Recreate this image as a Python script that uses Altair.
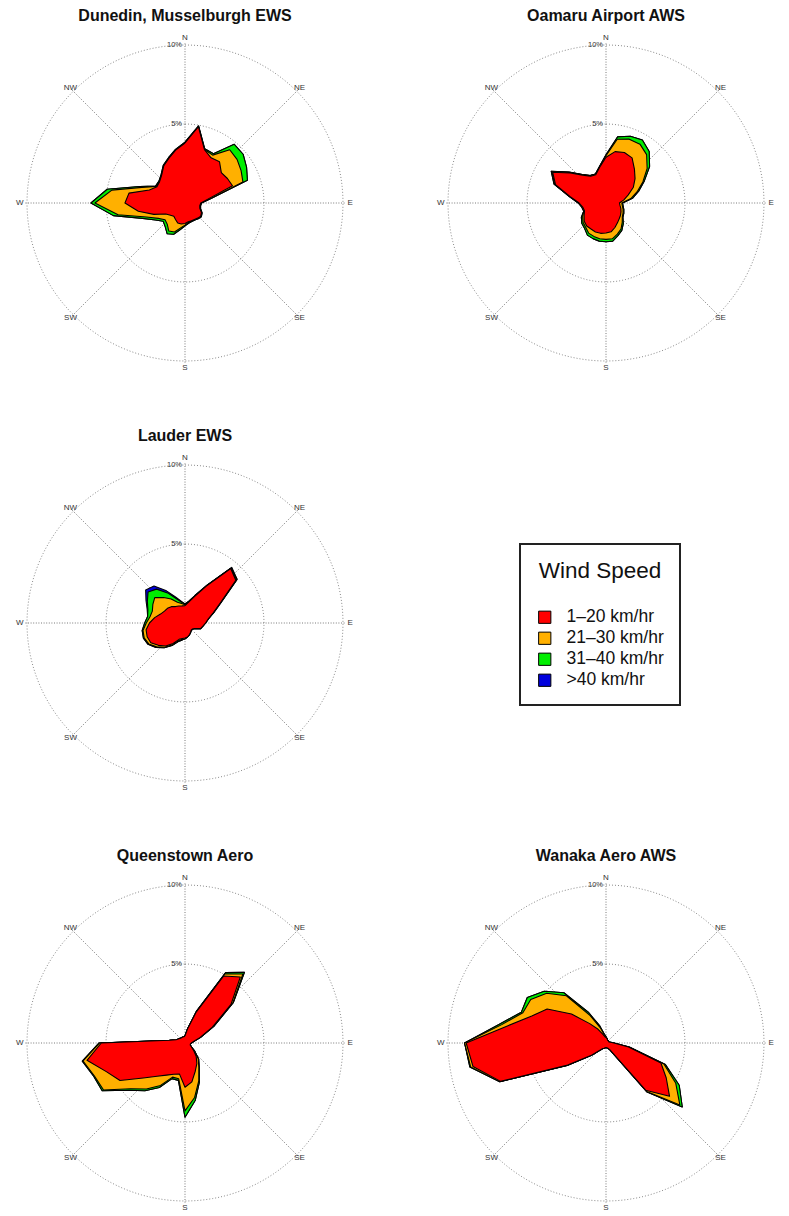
import altair as alt
import numpy as np
import pandas as pd

FONT = "Liberation Sans"

# 10-degree direction sectors, clockwise from north
DIRECTIONS = list(range(0, 360, 10))

CLASSES = ["1–20 km/hr", "21–30 km/hr", "31–40 km/hr", ">40 km/hr"]
CLASS_COLORS = ["#ff0000", "#ffb000", "#00ee00", "#0000dd"]

STATIONS = [
    "Dunedin, Musselburgh EWS",
    "Oamaru Airport AWS",
    "Lauder EWS",
    "Queenstown Aero",
    "Wanaka Aero AWS",
]

# Frequency of observations (%) per sector for each wind-speed class
dunedin_1_20 = [3.8, 4.9, 3.6, 3.3, 3.4, 3.0, 3.1, 3.2, 1.5, 1.0, 0.95, 1.0,
                1.2, 1.3, 1.25, 1.2, 1.2, 1.2, 1.3, 1.35, 1.35, 1.2, 1.1, 1.2,
                1.4, 2.1, 3.0, 3.8, 3.6, 2.4, 2.05, 2.1, 2.3, 2.7, 3.0, 3.4]
dunedin_21_30 = [0, 0, 0, 0.2, 1.0, 1.3, 1.0, 0.7, 0.15, 0, 0, 0,
                 0, 0, 0, 0, 0, 0.05, 0.1, 0.25, 0.6, 0.85, 0.65, 0.45,
                 0.55, 0.5, 1.3, 1.9, 1.1, 0.5, 0.05, 0, 0, 0, 0, 0]
dunedin_31_40 = [0.05, 0.05, 0.05, 0.1, 0.45, 0.5, 0.4, 0.3, 0.05, 0.05, 0.05, 0.05,
                 0.05, 0.05, 0.05, 0.05, 0.05, 0.05, 0.05, 0.1, 0.15, 0.2, 0.2, 0.15,
                 0.2, 0.25, 0.3, 0.25, 0.3, 0.15, 0.05, 0.05, 0.05, 0.05, 0.05, 0.05]
dunedin_gt40 = [0] * 36

oamaru_1_20 = [2.9, 3.3, 3.4, 3.3, 2.8, 2.4, 2.0, 1.5, 1.15, 0.85, 0.9, 1.0,
               1.1, 1.2, 1.3, 1.45, 1.65, 1.85, 1.9, 1.95, 1.95, 1.9, 1.9, 1.8,
               1.6, 1.45, 1.5, 1.7, 2.3, 3.4, 3.9, 2.95, 2.3, 1.95, 1.9, 2.3]
oamaru_21_30 = [0.1, 0.8, 0.9, 1.0, 1.2, 1.0, 0.7, 0.6, 0.45, 0.15, 0.15, 0.15,
                0.15, 0.15, 0.3, 0.45, 0.45, 0.45, 0.4, 0.35, 0.3, 0.3, 0.1, 0.1,
                0.1, 0.05, 0.05, 0.05, 0.05, 0.05, 0.05, 0.05, 0.05, 0.05, 0.05, 0.05]
oamaru_31_40 = [0.05, 0.15, 0.2, 0.3, 0.25, 0.2, 0.1, 0.1, 0.1, 0.05, 0.05, 0.05,
                0.05, 0.05, 0.1, 0.1, 0.1, 0.15, 0.15, 0.15, 0.15, 0.15, 0.1, 0.1,
                0.1, 0, 0, 0, 0, 0.05, 0.05, 0.05, 0, 0, 0, 0]
oamaru_gt40 = [0] * 36

lauder_1_20 = [1.1, 1.35, 1.8, 2.7, 4.5, 4.2, 2.6, 1.9, 1.5, 1.3, 1.15, 1.05,
               0.7, 0.6, 0.6, 0.7, 0.8, 0.9, 0.95, 1.0, 1.1, 1.5, 1.9, 2.2,
               2.5, 2.55, 2.5, 2.25, 1.95, 1.65, 1.5, 1.45, 1.35, 1.2, 1.15, 1.1]
lauder_21_30 = [0.05, 0, 0, 0, 0, 0.05, 0, 0, 0, 0, 0, 0,
                0, 0, 0, 0, 0, 0, 0.05, 0.05, 0.1, 0.1, 0.1, 0.15,
                0.15, 0.2, 0.2, 0.2, 0.3, 0.55, 0.85, 1.05, 0.75, 0.55, 0.25, 0.15]
lauder_31_40 = [0.05, 0.05, 0.05, 0.05, 0.05, 0.05, 0.05, 0.05, 0, 0, 0, 0,
                0, 0, 0, 0, 0, 0, 0, 0.05, 0.05, 0.05, 0.05, 0.05,
                0.05, 0.05, 0.05, 0.1, 0.15, 0.3, 0.4, 0.55, 0.7, 0.45, 0.25, 0.1]
lauder_gt40 = [0, 0, 0, 0, 0.05, 0, 0, 0, 0, 0, 0, 0,
               0, 0, 0, 0, 0, 0, 0, 0, 0, 0, 0, 0,
               0, 0, 0, 0, 0, 0.05, 0.1, 0.2, 0.25, 0.15, 0.1, 0.05]

queenstown_1_20 = [0.45, 0.9, 2.1, 4.9, 5.45, 3.8, 2.0, 1.0, 0.55, 0.4, 0.35, 0.35,
                   0.45, 0.7, 1.1, 1.5, 1.9, 2.5, 2.8, 2.0, 2.1, 2.35, 2.75, 3.45,
                   4.75, 5.3, 6.3, 5.3, 1.0, 0.6, 0.5, 0.45, 0.4, 0.4, 0.4, 0.4]
queenstown_21_30 = [0, 0, 0.05, 0.15, 0.25, 0.15, 0.1, 0.05, 0, 0, 0, 0,
                    0, 0.1, 0.2, 0.25, 0.65, 1.0, 1.5, 0.3, 0.2, 0.75, 1.05, 1.05,
                    1.2, 0.8, 0.25, 0.1, 0, 0, 0, 0, 0, 0, 0, 0]
queenstown_31_40 = [0, 0, 0, 0.1, 0.15, 0.05, 0, 0, 0, 0, 0, 0,
                    0, 0, 0.05, 0.05, 0.1, 0.2, 0.4, 0.1, 0.1, 0.15, 0.15, 0.15,
                    0.1, 0.05, 0.05, 0.05, 0, 0, 0, 0, 0, 0, 0, 0]
queenstown_gt40 = [0] * 36

wanaka_1_20 = [0.35, 0.3, 0.25, 0.2, 0.2, 0.2, 0.2, 0.2, 0.3, 0.5, 1.45, 3.7,
               4.4, 5.25, 3.9, 0.5, 0.35, 0.3, 0.3, 0.3, 0.35, 0.4, 0.6, 1.2,
               2.8, 7.1, 8.55, 8.85, 6.3, 5.0, 4.3, 2.85, 1.6, 1.0, 0.6, 0.4]
wanaka_21_30 = [0.05, 0, 0, 0, 0, 0, 0, 0, 0, 0, 0, 0.2,
                0.7, 0.85, 0.1, 0, 0, 0, 0, 0, 0, 0, 0, 0,
                0.05, 0.05, 0.15, 0.1, 0.4, 0.6, 1.2, 2.05, 2.3, 1.0, 0.4, 0.1]
wanaka_31_40 = [0, 0, 0, 0, 0, 0, 0, 0, 0, 0, 0.05, 0.1,
                0.25, 0.2, 0.05, 0, 0, 0, 0, 0, 0, 0, 0, 0,
                0, 0, 0.05, 0, 0.15, 0.1, 0.25, 0.2, 0.25, 0.25, 0.15, 0.05]
wanaka_gt40 = [0] * 36

FREQ = {
    "Dunedin, Musselburgh EWS": [dunedin_1_20, dunedin_21_30, dunedin_31_40, dunedin_gt40],
    "Oamaru Airport AWS": [oamaru_1_20, oamaru_21_30, oamaru_31_40, oamaru_gt40],
    "Lauder EWS": [lauder_1_20, lauder_21_30, lauder_31_40, lauder_gt40],
    "Queenstown Aero": [queenstown_1_20, queenstown_21_30, queenstown_31_40, queenstown_gt40],
    "Wanaka Aero AWS": [wanaka_1_20, wanaka_21_30, wanaka_31_40, wanaka_gt40],
}

COMPASS = ["N", "NE", "E", "SE", "S", "SW", "W", "NW"]
COMPASS_BEARING = [0, 45, 90, 135, 180, 225, 270, 315]
RING_LEVELS = [5, 10]
RING_TEXT = ["5%", "10%"]

# ---- tables -------------------------------------------------------------
# Stacked (cumulative) outline per class; each outline is closed by
# repeating the first sector at 360 degrees.
poly_rows = []
for station, series in FREQ.items():
    cum = np.cumsum(np.array(series, dtype=float), axis=0)
    for k, cls in enumerate(CLASSES):
        for i, d in enumerate(DIRECTIONS + [360]):
            poly_rows.append({"station": station, "cls": cls, "layer": k,
                              "dir": d, "ord": i, "r": round(float(cum[k][i % 36]), 3)})
poly_df = pd.DataFrame(poly_rows)

ring_rows = []
for lev in RING_LEVELS:
    for a in range(0, 361, 2):
        ring_rows.append({"r": lev, "a": a})
ring_df = pd.DataFrame(ring_rows)

compass_df = pd.DataFrame({"label": COMPASS, "bearing": COMPASS_BEARING})
ring_label_df = pd.DataFrame({"r": RING_LEVELS, "text": RING_TEXT})

# ---- geometry -----------------------------------------------------------
PANEL_W, PANEL_H = 356, 340
PX_PER_PCT = 15.8
HALF_X = PANEL_W / 2 / PX_PER_PCT
HALF_Y = PANEL_H / 2 / PX_PER_PCT

xs = alt.Scale(domain=[-HALF_X, HALF_X], nice=False, zero=False)
ys = alt.Scale(domain=[-HALF_Y, HALF_Y], nice=False, zero=False)

color_scale = alt.Scale(domain=CLASSES, range=CLASS_COLORS)
legend = alt.Legend(
    title="Wind Speed", orient="none", legendX=513, legendY=511,
    symbolType="square", symbolSize=150, symbolStrokeColor="black",
    symbolStrokeWidth=1, labelOffset=13, rowPadding=2, titlePadding=26,
    padding=16, strokeColor="#222222", titleAnchor="middle",
)

POLAR_X = "datum.r * sin(datum.dir * PI / 180)"
POLAR_Y = "datum.r * cos(datum.dir * PI / 180)"


def rose(station):
    rings = alt.Chart(ring_df).transform_calculate(
        x="datum.r * sin(datum.a * PI / 180)",
        y="datum.r * cos(datum.a * PI / 180)",
    ).mark_line(color="#8a8a8a", strokeWidth=1, strokeDash=[1, 2]).encode(
        x=alt.X("x:Q", scale=xs, axis=None),
        y=alt.Y("y:Q", scale=ys, axis=None),
        detail="r:N",
        order="a:Q",
    )

    spokes = alt.Chart(compass_df).transform_calculate(
        x0="0", y0="0",
        x1="10.2 * sin(datum.bearing * PI / 180)",
        y1="10.2 * cos(datum.bearing * PI / 180)",
    ).mark_rule(color="#7a7a7a", strokeWidth=1, strokeDash=[1, 1.6]).encode(
        x=alt.X("x0:Q", scale=xs, axis=None),
        y=alt.Y("y0:Q", scale=ys, axis=None),
        x2="x1:Q",
        y2="y1:Q",
    )

    compass_text = alt.Chart(compass_df).transform_calculate(
        rr="datum.bearing % 90 == 0 ? 10.45 : 10.25",
        x="datum.rr * sin(datum.bearing * PI / 180)",
        y="datum.rr * cos(datum.bearing * PI / 180)",
    ).mark_text(font=FONT, fontSize=8, color="#333333").encode(
        x=alt.X("x:Q", scale=xs, axis=None),
        y=alt.Y("y:Q", scale=ys, axis=None),
        text="label:N",
    )

    ring_text = alt.Chart(ring_label_df).transform_calculate(x0="0").mark_text(
        font=FONT, fontSize=7.5, color="#333333", align="right",
        baseline="middle", dx=-3,
    ).encode(
        x=alt.X("x0:Q", scale=xs, axis=None),
        y=alt.Y("r:Q", scale=ys, axis=None),
        text="text:N",
    )

    layers = [rings, spokes]
    for k in [3, 2, 1, 0]:
        layers.append(
            alt.Chart(poly_df).transform_filter(
                (alt.datum.station == station) & (alt.datum.layer == k)
            ).transform_calculate(x=POLAR_X, y=POLAR_Y).mark_line(
                filled=True, stroke="black", strokeWidth=1.1, strokeJoin="round"
            ).encode(
                x=alt.X("x:Q", scale=xs, axis=None),
                y=alt.Y("y:Q", scale=ys, axis=None),
                order="ord:Q",
                color=alt.Color("cls:N", scale=color_scale, legend=legend),
            )
        )
    layers += [compass_text, ring_text]

    return alt.layer(*layers).properties(
        width=PANEL_W, height=PANEL_H,
        title=alt.TitleParams(station, font=FONT, fontSize=16, fontWeight="bold",
                              color="#111111", offset=9, anchor="middle"),
    )


row1 = alt.hconcat(rose(STATIONS[0]), rose(STATIONS[1]), spacing=65).resolve_scale(color="shared")
row2 = alt.hconcat(rose(STATIONS[2]), spacing=65).resolve_scale(color="shared")
row3 = alt.hconcat(rose(STATIONS[3]), rose(STATIONS[4]), spacing=65).resolve_scale(color="shared")

chart = alt.vconcat(row1, row2, row3, spacing=55).resolve_scale(
    color="shared"
).resolve_legend(color="shared").properties(
    padding={"left": 7, "top": 8, "right": 0, "bottom": 0}
).configure_view(stroke=None).configure_legend(
    titleFont=FONT, titleFontSize=22.5, titleFontWeight="normal", titleColor="#111111",
    labelFont=FONT, labelFontSize=17.5, labelColor="#111111", strokeWidth=2,
)

chart.save("out.html", embed_options={"renderer": "svg", "actions": False})
